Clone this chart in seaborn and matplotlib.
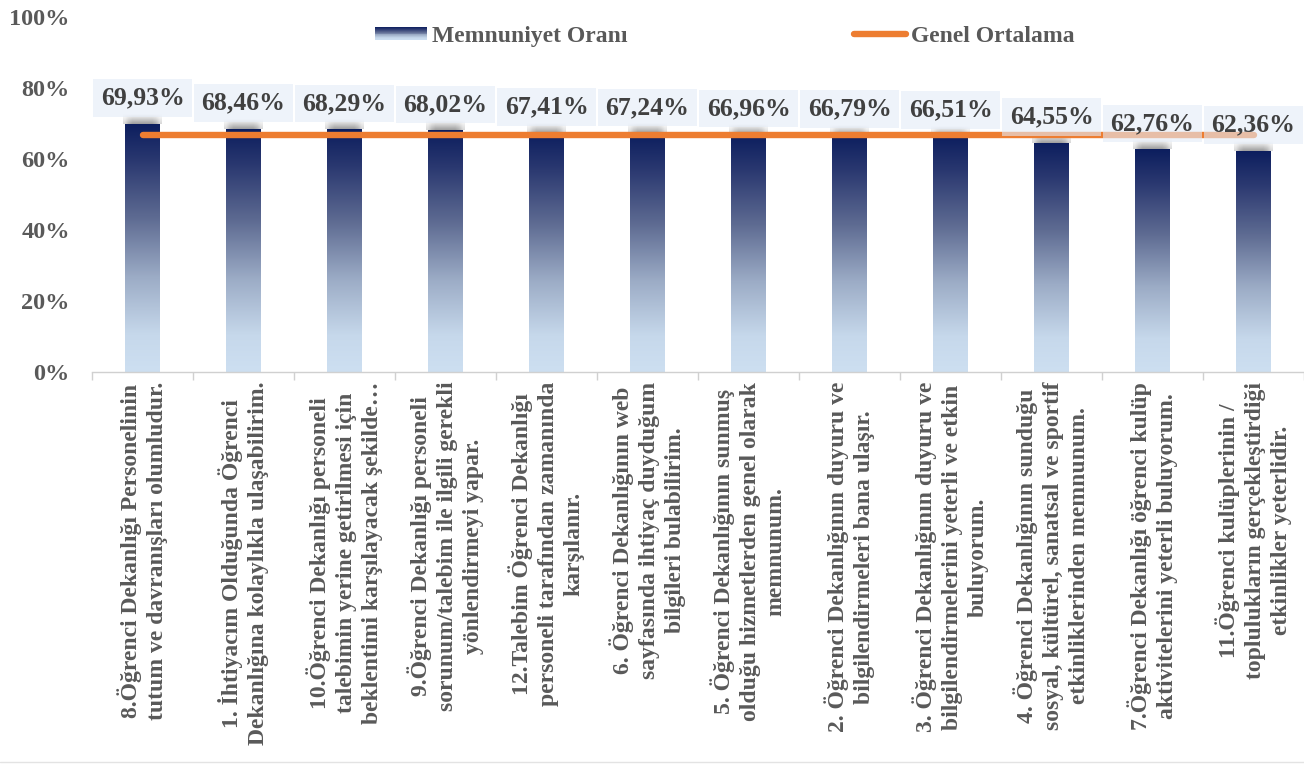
import numpy as np
import matplotlib
matplotlib.use("Agg")
import matplotlib.pyplot as plt
import seaborn as sns
import pandas as pd
from matplotlib.colors import LinearSegmentedColormap
from matplotlib.patches import Rectangle
from matplotlib.lines import Line2D
from matplotlib.legend_handler import HandlerBase

# ---------------- data ----------------
categories = [
    "8.Öğrenci Dekanlığı Personelinin\ntutum ve davranışları olumludur.",
    "1. İhtiyacım Olduğunda Öğrenci\nDekanlığına kolaylıkla ulaşabilirim.",
    "10.Öğrenci Dekanlığı personeli\ntalebimin yerine getirilmesi için\nbeklentimi karşılayacak şekilde…",
    "9.Öğrenci Dekanlığı personeli\nsorunum/talebim ile ilgili gerekli\nyönlendirmeyi yapar.",
    "12.Talebim Öğrenci Dekanlığı\npersoneli tarafından zamanında\nkarşılanır.",
    "6. Öğrenci Dekanlığının web\nsayfasında ihtiyaç duyduğum\nbilgileri bulabilirim.",
    "5. Öğrenci Dekanlığının sunmuş\nolduğu hizmetlerden genel olarak\nmemnunum.",
    "2. Öğrenci Dekanlığının duyuru ve\nbilgilendirmeleri bana ulaşır.",
    "3. Öğrenci Dekanlığının duyuru ve\nbilgilendirmelerini yeterli ve etkin\nbuluyorum.",
    "4. Öğrenci Dekanlığının sunduğu\nsosyal, kültürel, sanatsal ve sportif\netkinliklerinden memnunum.",
    "7.Öğrenci Dekanlığı öğrenci kulüp\naktivitelerini yeterli buluyorum.",
    "11.Öğrenci kulüplerinin /\ntoplulukların gerçekleştirdiği\netkinlikler yeterlidir.",
]
memnuniyet_orani = [69.93, 68.46, 68.29, 68.02, 67.41, 67.24, 66.96, 66.79, 66.51, 64.55, 62.76, 62.36]
genel_ortalama = [66.61, 66.61, 66.61, 66.61, 66.61, 66.61, 66.61, 66.61, 66.61, 66.61, 66.61, 66.61]
value_labels = ["69,93%", "68,46%", "68,29%", "68,02%", "67,41%", "67,24%",
                "66,96%", "66,79%", "66,51%", "64,55%", "62,76%", "62,36%"]
y_ticks = [0, 20, 40, 60, 80, 100]
y_tick_labels = ["0%", "20%", "40%", "60%", "80%", "100%"]
legend_labels = ["Memnuniyet Oranı", "Genel Ortalama"]

# ---------------- style ----------------
sns.set_theme(style="white")
plt.rcParams['font.family'] = ['Liberation Serif', 'DejaVu Serif']
plt.rcParams['font.weight'] = 'bold'

NAVY = "#0C1E5E"
ORANGE = "#ED7D31"
GRAY_TXT = "#595959"

cmap = LinearSegmentedColormap.from_list(
    "grad",
    [(0.0, "#CDDFF1"), (0.15, "#C6D8EB"), (0.38, "#9CACC6"),
     (0.62, "#5E6B92"), (0.85, "#2A3870"), (1.0, NAVY)])

fig = plt.figure(figsize=(13.04, 7.67), dpi=100)
ax = fig.add_axes([0.0706, 0.515, 0.9294, 0.463])

df = pd.DataFrame({"kategori": categories, "oran": memnuniyet_orani})
sns.barplot(data=df, x="kategori", y="oran", ax=ax, width=0.34, color=NAVY,
            saturation=1, errorbar=None, zorder=2)

grad = np.linspace(0, 1, 256).reshape(-1, 1)
shadow = np.zeros((32, 10, 4))
shadow[..., :3] = 0.30
vert = np.linspace(0.55, 0.0, 32).reshape(-1, 1)
horiz = np.array([0.4, 0.8, 1, 1, 1, 1, 1, 1, 0.8, 0.4]).reshape(1, -1)
shadow[..., 3] = vert * horiz
for p in list(ax.patches):
    x0, y0 = p.get_x(), p.get_y()
    w, h = p.get_width(), p.get_height()
    ax.imshow(shadow, extent=[x0 - 0.02, x0 + w + 0.02, y0 + h, y0 + h + 2.8],
              origin='lower', aspect='auto', zorder=1.5, interpolation='bilinear')
    im = ax.imshow(grad, extent=[x0, x0 + w, y0, y0 + h], origin='lower',
                   cmap=cmap, aspect='auto', zorder=2, interpolation='bilinear')
    im.set_clip_path(p)
    p.set_facecolor('none')
    p.set_edgecolor('none')

n = len(categories)
sns.lineplot(x=np.arange(n), y=genel_ortalama, ax=ax, color=ORANGE, linewidth=4.6,
             zorder=3, solid_capstyle='round', legend=False)

for i, (v, lab) in enumerate(zip(memnuniyet_orani, value_labels)):
    ax.annotate(lab, xy=(i, v), xytext=(0, 18.5), textcoords='offset points',
                ha='center', va='center', fontsize=18.5, fontweight='bold',
                color='#404040', zorder=5,
                bbox=dict(boxstyle='square,pad=0.28', fc='#E3EBF7', ec='none', alpha=0.6))

ax.set_xlim(-0.5, n - 0.5)
ax.set_ylim(0, 100)
ax.set_yticks(y_ticks)
ax.set_yticklabels(y_tick_labels, fontsize=17.5, fontweight='bold', color=GRAY_TXT)
ax.set_xticks(np.arange(n))
ax.set_xticklabels(categories, rotation=90, ha='center', va='top',
                   multialignment='center', fontsize=17, fontweight='bold',
                   color=GRAY_TXT, linespacing=1.3)
ax.set_xticks(np.arange(n + 1) - 0.5, minor=True)
ax.tick_params(axis='x', which='major', length=0, pad=7)
ax.tick_params(axis='x', which='minor', length=6, width=1, color='#D0D0D0', direction='out', bottom=True)
ax.tick_params(axis='y', length=0, pad=16)
ax.set_xlabel("")
ax.set_ylabel("")
for s in ['top', 'right', 'left']:
    ax.spines[s].set_visible(False)
ax.spines['bottom'].set_color('#D0D0D0')
ax.spines['bottom'].set_linewidth(1)
ax.grid(False)


class GradientPatch(Rectangle):
    pass


class GradientHandler(HandlerBase):
    def create_artists(self, legend, orig_handle, xdescent, ydescent, width, height, fontsize, trans):
        k = 14
        hh = height * 0.75
        y_start = -ydescent + (height - hh) / 2
        arts = []
        for j in range(k):
            r = Rectangle((-xdescent, y_start + j * hh / k), width, hh / k * 1.05,
                          facecolor=cmap((j + 0.5) / k), edgecolor='none', transform=trans)
            arts.append(r)
        return arts


handles = [GradientPatch((0, 0), 1, 1),
           Line2D([0], [0], color=ORANGE, lw=4.6, solid_capstyle='round')]
fig.legend(handles, legend_labels, handler_map={GradientPatch: GradientHandler()},
           loc='center', bbox_to_anchor=(0.556, 0.953), ncol=2, frameon=False,
           handlelength=2.2, handletextpad=0.2, columnspacing=9.6,
           prop={'size': 17, 'weight': 'bold'}, labelcolor=GRAY_TXT)

fig.add_artist(Line2D([0, 1], [0.006, 0.006], transform=fig.transFigure,
                      color='#E3E3E3', lw=1))

fig.savefig('out.png', dpi=100)
